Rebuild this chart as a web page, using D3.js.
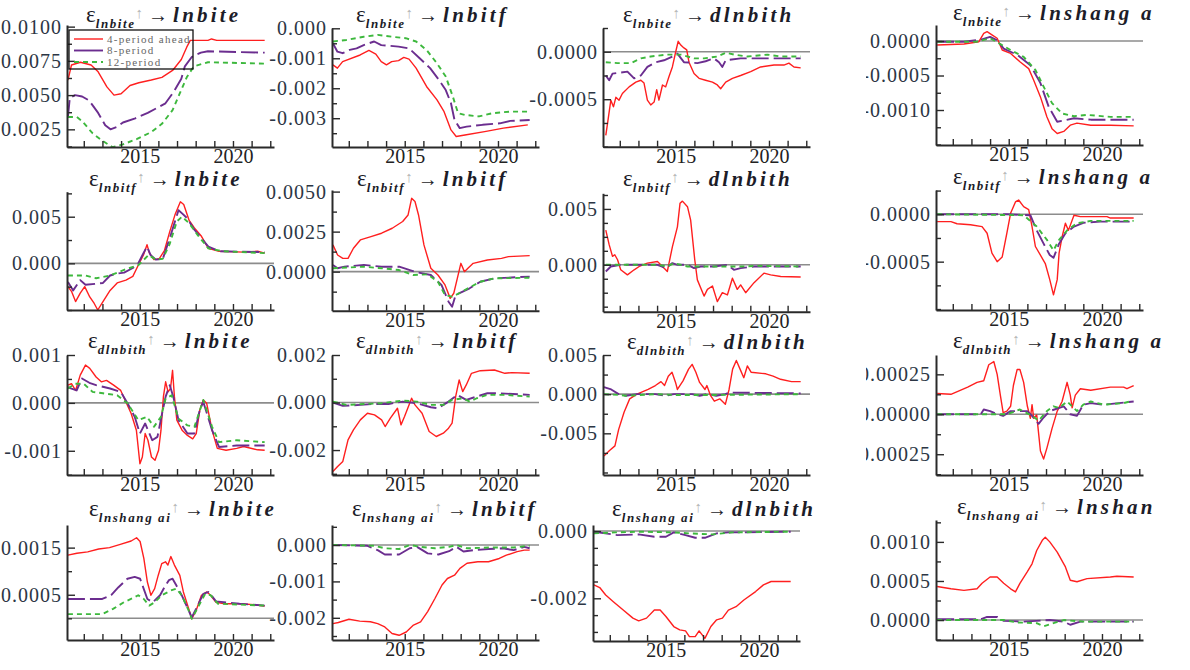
<!DOCTYPE html>
<html><head><meta charset="utf-8">
<script src="https://cdn.jsdelivr.net/npm/d3@7"></script>
<style>body{margin:0;background:#fff}svg{display:block}</style>
</head><body>
<svg id="c" width="1190" height="670"></svg>
<script>
// ---------- categories ----------
const shocks = ['lnbite','lnbitf','dlnbith','lnshang ai'];
const responses = ['lnbite','lnbitf','dlnbith','lnshang a'];
const lastResponse = 'lnshan';
const seriesNames = ['4-period ahead','8-period','12-period'];
const yearLabels = [2015, 2020];
const yearTicks = [2012,2013,2014,2015,2016,2017,2018,2019,2020,2021,2022];

// ---------- series values [year, value] ----------
const r11=[[2011.15,0.0061],[2011.34,0.0072],[2011.82,0.0074],[2012.39,0.0072],[2012.77,0.0067],[2013.24,0.0056],[2013.62,0.0050],[2014.0,0.0051],[2014.48,0.0057],[2014.95,0.0059],[2015.62,0.0061],[2016.19,0.0063],[2016.76,0.0068],[2017.23,0.0076],[2017.52,0.0085],[2017.71,0.0090],[2018.66,0.0090],[2018.85,0.0091],[2019.13,0.0090],[2021.7,0.0090]];
const p11=[[2011.15,0.0034],[2011.25,0.0048],[2011.53,0.0050],[2011.91,0.0049],[2012.29,0.0046],[2012.77,0.0037],[2013.15,0.0028],[2013.43,0.0025],[2013.81,0.0027],[2014.1,0.0030],[2014.76,0.0033],[2015.43,0.0037],[2016.38,0.0044],[2016.85,0.0053],[2017.23,0.0062],[2017.42,0.0071],[2017.8,0.0078],[2018.28,0.0081],[2018.66,0.0082],[2021.7,0.0081]];
const g11=[[2011.15,0.0034],[2011.63,0.0034],[2011.91,0.0031],[2012.48,0.0022],[2012.96,0.0017],[2013.53,0.0012],[2014.1,0.0014],[2014.86,0.0018],[2015.62,0.0023],[2016.19,0.0029],[2016.76,0.0039],[2017.14,0.0051],[2017.52,0.0063],[2017.9,0.0071],[2018.66,0.0074],[2021.7,0.0073]];

const r12=[[2011.15,-0.00122],[2011.39,-0.00133],[2011.67,-0.00111],[2012.61,-0.00089],[2013.08,-0.00074],[2013.45,-0.00086],[2013.74,-0.00111],[2014.02,-0.00122],[2014.3,-0.00111],[2014.67,-0.00108],[2014.95,-0.00097],[2015.23,-0.00103],[2015.61,-0.00133],[2016.17,-0.00194],[2016.73,-0.00239],[2017.11,-0.00278],[2017.48,-0.00339],[2017.76,-0.00361],[2018.23,-0.00356],[2019.36,-0.00344],[2020.29,-0.00333],[2021.6,-0.00322]];
const p12=[[2011.15,-0.0005],[2011.39,-0.00078],[2011.67,-0.00083],[2012.05,-0.00072],[2012.42,-0.00067],[2012.8,-0.00056],[2013.36,-0.00044],[2013.74,-0.00056],[2014.67,-0.00061],[2015.23,-0.00067],[2015.8,-0.001],[2016.36,-0.00133],[2016.83,-0.00172],[2017.2,-0.00206],[2017.48,-0.0025],[2017.67,-0.00306],[2017.95,-0.00333],[2018.32,-0.00328],[2019.17,-0.00322],[2020.1,-0.00317],[2020.66,-0.00309],[2021.7,-0.00306]];
const g12=[[2011.15,-0.00044],[2011.86,-0.00039],[2012.8,-0.00028],[2013.55,-0.00022],[2014.3,-0.00028],[2015.05,-0.00033],[2015.61,-0.00044],[2016.17,-0.00072],[2016.73,-0.00117],[2017.2,-0.00161],[2017.58,-0.00228],[2017.86,-0.00283],[2018.23,-0.00289],[2018.98,-0.00294],[2019.73,-0.00283],[2020.66,-0.00278],[2021.7,-0.00278]];

const r13=[[2011.25,-0.00088],[2011.34,-0.00076],[2011.52,-0.00051],[2011.66,-0.00058],[2011.79,-0.00048],[2011.96,-0.00051],[2012.14,-0.00044],[2012.5,-0.00037],[2012.86,-0.00032],[2013.13,-0.0003],[2013.3,-0.00033],[2013.48,-0.00051],[2013.66,-0.00056],[2013.84,-0.00053],[2013.98,-0.0004],[2014.1,-0.00051],[2014.29,-0.00035],[2014.46,-0.00037],[2014.64,-0.00026],[2014.82,-0.00016],[2015.0,0],[2015.13,0.00011],[2015.27,0.00007],[2015.44,0.00004],[2015.59,0.00002],[2015.71,-0.00011],[2015.98,-0.00023],[2016.25,-0.00028],[2016.6,-0.0003],[2016.97,-0.00032],[2017.23,-0.00035],[2017.41,-0.00039],[2017.68,-0.00032],[2018.04,-0.00028],[2018.48,-0.00025],[2019.02,-0.00021],[2019.55,-0.00016],[2020.27,-0.00014],[2020.8,-0.00014],[2021.07,-0.00012],[2021.34,-0.00016],[2021.7,-0.00017]];
const p13=[[2011.25,-0.00025],[2011.43,-0.0003],[2011.61,-0.00023],[2012.0,-0.00022],[2012.41,-0.00021],[2012.77,-0.00028],[2013.13,-0.00025],[2013.48,-0.00016],[2013.93,-0.00011],[2014.37,-0.00009],[2014.82,-0.00005],[2015.09,-0.00002],[2015.44,-0.00011],[2016.16,-0.00012],[2016.6,-0.0001],[2017.05,-0.00007],[2017.32,-0.00011],[2017.5,-0.00016],[2017.68,-0.00009],[2018.48,-0.00007],[2019.38,-0.00007],[2020.63,-0.00007],[2021.7,-0.00007]];
const g13=[[2011.25,-0.00011],[2011.88,-0.00012],[2012.59,-0.00012],[2013.13,-0.00007],[2013.66,-0.00005],[2014.55,-0.00003],[2015.27,-0.00003],[2015.98,-0.00007],[2016.52,-0.00007],[2017.23,-0.00005],[2017.68,-0.00001],[2018.12,-0.00003],[2018.84,-0.00005],[2019.91,-0.00003],[2020.63,-0.00005],[2021.7,-0.00005]];

const r14=[[2011.16,-0.000058],[2012.6,-0.000043],[2013.4,-0.00001],[2013.66,0.00011],[2013.84,0.000135],[2014.1,0.00009],[2014.38,0.00004],[2014.65,-0.00013],[2015.1,-0.00018],[2015.6,-0.0003],[2016.07,-0.0004],[2016.34,-0.00057],[2016.7,-0.00081],[2017.05,-0.0011],[2017.32,-0.00127],[2017.6,-0.00134],[2017.95,-0.00131],[2018.3,-0.00122],[2018.66,-0.00119],[2019.4,-0.00122],[2020.45,-0.00122],[2021.7,-0.00123]];
const p14=[[2011.16,-0.00001],[2012.6,-0.00001],[2013.5,0.00002],[2014.0,0.00006],[2014.38,0.00001],[2014.73,-0.00011],[2015.45,-0.0002],[2016.16,-0.00035],[2016.7,-0.00061],[2017.14,-0.00095],[2017.6,-0.00117],[2018.0,-0.00115],[2018.5,-0.00112],[2019.4,-0.00114],[2021.7,-0.00114]];
const g14=[[2011.16,-0.00001],[2013.3,-0.00001],[2014.0,0.00004],[2014.46,-0.00003],[2015.1,-0.00013],[2015.8,-0.00023],[2016.43,-0.00042],[2016.87,-0.00066],[2017.32,-0.0009],[2017.86,-0.00105],[2018.5,-0.00109],[2019.2,-0.00107],[2020.45,-0.0011],[2021.7,-0.0011]];

const r21=[[2011.15,-0.0025],[2011.34,-0.003],[2011.56,-0.0041],[2011.81,-0.0032],[2012.05,-0.0025],[2012.32,-0.0036],[2012.56,-0.0043],[2012.75,-0.005],[2013.03,-0.0041],[2013.41,-0.0029],[2013.79,-0.0021],[2014.26,-0.0018],[2014.63,-0.0014],[2014.92,-0.0002],[2015.2,0.0009],[2015.39,0.002],[2015.52,0.0011],[2015.76,0.0004],[2016.05,0.0005],[2016.33,0.0014],[2016.61,0.0034],[2016.89,0.0052],[2017.18,0.0066],[2017.36,0.0063],[2017.65,0.0046],[2017.93,0.0038],[2018.31,0.0029],[2018.68,0.0016],[2019.25,0.0013],[2020.57,0.0012],[2021.32,0.0013],[2021.7,0.0011]];
const p21=[[2011.15,-0.002],[2011.43,-0.0029],[2011.81,-0.0018],[2012.09,-0.0023],[2012.6,-0.0022],[2013.03,-0.0021],[2013.41,-0.0013],[2013.79,-0.0011],[2014.16,-0.001],[2014.63,-0.0005],[2014.92,0],[2015.2,0.0011],[2015.39,0.0018],[2015.58,0.0009],[2015.86,0.0004],[2016.24,0.0005],[2016.61,0.0027],[2016.89,0.0045],[2017.08,0.0057],[2017.3,0.0053],[2017.56,0.0048],[2017.93,0.0036],[2018.68,0.0018],[2019.25,0.0013],[2021.7,0.0012]];
const g21=[[2011.15,-0.0013],[2012.09,-0.0013],[2012.66,-0.0016],[2013.41,-0.0013],[2014.16,-0.0007],[2014.92,-0.0002],[2015.48,0.0009],[2015.86,0.0004],[2016.24,0.0005],[2016.61,0.0021],[2016.99,0.0045],[2017.27,0.005],[2017.65,0.0043],[2018.12,0.003],[2018.68,0.0016],[2019.44,0.0013],[2021.7,0.0011]];

const r22=[[2011.15,0.00167],[2011.4,0.00104],[2011.68,0.00083],[2011.96,0.00083],[2012.25,0.00146],[2012.62,0.00198],[2013.19,0.00219],[2013.76,0.0024],[2014.33,0.00271],[2014.89,0.00313],[2015.18,0.00354],[2015.37,0.00458],[2015.55,0.00438],[2015.74,0.00354],[2016.03,0.00167],[2016.4,0.00021],[2016.78,-0.00021],[2017.16,-0.00083],[2017.44,-0.00167],[2017.63,-0.00135],[2017.82,-0.00042],[2018.01,0.00052],[2018.2,0],[2018.39,0.00021],[2018.67,0.00052],[2019.43,0.00073],[2020.19,0.00083],[2020.56,0.00094],[2021.7,0.001]];
const p22=[[2011.15,0.00042],[2011.4,0.00021],[2011.77,0.00031],[2012.81,0.00042],[2013.76,0.00031],[2014.7,0.00031],[2015.65,-0.00004],[2016.4,-0.00021],[2016.97,-0.00083],[2017.35,-0.00188],[2017.54,-0.00219],[2017.73,-0.00146],[2018.11,-0.00125],[2018.48,-0.00104],[2019.05,-0.00063],[2019.81,-0.00042],[2021.7,-0.00031]];
const g22=[[2011.15,0.00021],[2012.81,0.00031],[2013.76,0.00021],[2014.7,0.0001],[2015.46,-0.00021],[2016.22,-0.00017],[2016.78,-0.00063],[2017.16,-0.00146],[2017.54,-0.00156],[2017.92,-0.00135],[2018.39,-0.00104],[2019.05,-0.00063],[2019.81,-0.00042],[2021.7,-0.00038]];

const r23=[[2011.25,0.0031],[2011.43,0.0018],[2011.61,0.00075],[2011.73,0.0009],[2011.88,0.00045],[2012.05,-0.00045],[2012.41,-0.0009],[2012.77,-0.00045],[2013.04,-0.00015],[2013.48,0.00015],[2014.02,0.0003],[2014.29,-0.00015],[2014.55,-0.0006],[2014.64,0.00015],[2014.82,0.0016],[2015.09,0.0034],[2015.23,0.0055],[2015.36,0.0057],[2015.63,0.0052],[2015.8,0.004],[2016.02,0.00045],[2016.16,-0.00135],[2016.52,-0.0028],[2016.7,-0.0022],[2016.97,-0.0019],[2017.23,-0.0033],[2017.5,-0.0025],[2017.77,-0.0027],[2018.04,-0.0012],[2018.3,-0.0022],[2018.48,-0.0018],[2018.75,-0.0025],[2019.2,-0.0016],[2019.73,-0.00075],[2020.09,-0.0009],[2020.63,-0.00105],[2021.7,-0.0011]];
const p23=[[2011.25,-0.0006],[2011.52,-0.00015],[2012.05,0],[2013.13,0],[2014.02,0],[2014.46,-0.0003],[2014.82,0.00015],[2015.09,0],[2015.63,0],[2015.98,-0.0003],[2016.34,-0.00015],[2017.05,-0.00015],[2017.77,0],[2018.12,-0.00045],[2018.48,-0.0003],[2019.2,-0.00015],[2021.7,-0.00015]];
const g23=[[2011.25,0],[2012.05,0],[2014.02,0],[2014.55,-0.00015],[2014.9,0.00015],[2015.63,-0.00015],[2017.05,-0.00015],[2017.95,-0.00015],[2018.48,-0.00015],[2019.38,-0.0001],[2021.7,-0.00015]];

const r24=[[2011.16,-0.000078],[2011.9,-0.000078],[2012.23,-0.0001],[2012.95,-0.00011],[2013.57,-0.00013],[2013.84,-0.0002],[2014.1,-0.00041],[2014.38,-0.0005],[2014.65,-0.00045],[2014.9,-0.0002],[2015.1,0.00001],[2015.36,0.00013],[2015.53,0.00015],[2015.8,0.00008],[2016.07,0.00005],[2016.25,-0.00013],[2016.43,-0.00034],[2016.7,-0.00043],[2016.96,-0.00052],[2017.2,-0.00069],[2017.4,-0.00085],[2017.6,-0.00069],[2017.7,-0.00041],[2017.86,-0.00024],[2018.04,-0.000095],[2018.2,-0.00017],[2018.5,-0.00001],[2018.84,-0.000025],[2020.27,-0.000025],[2020.45,-0.00004],[2021.7,-0.00004]];
const p24=[[2011.16,0],[2014.9,0],[2016.16,-0.00001],[2016.5,-0.00017],[2016.87,-0.00031],[2017.2,-0.00043],[2017.4,-0.00046],[2017.7,-0.00031],[2018.04,-0.0002],[2018.5,-0.00013],[2019.0,-0.00009],[2019.9,-0.000078],[2021.7,-0.000078]];
const g24=[[2011.16,0],[2015.8,-0.00001],[2016.5,-0.00013],[2017.05,-0.00027],[2017.4,-0.00038],[2017.7,-0.00027],[2018.13,-0.00017],[2018.66,-0.000095],[2019.4,-0.00007],[2021.7,-0.00007]];

const r31=[[2011.15,0.00037],[2011.34,0.0004],[2011.56,0.00026],[2011.81,0.00058],[2012.09,0.00079],[2012.32,0.00072],[2012.66,0.00054],[2012.94,0.00044],[2013.22,0.00047],[2013.6,0.00037],[2013.98,0.00026],[2014.26,0.00002],[2014.54,-0.00022],[2014.82,-0.00057],[2015.01,-0.00127],[2015.14,-0.00113],[2015.29,-0.00064],[2015.44,-0.00078],[2015.63,-0.00113],[2015.82,-0.0012],[2016.01,-0.00099],[2016.14,-0.00057],[2016.27,0.00013],[2016.39,0.00044],[2016.52,0.00023],[2016.65,0.0003],[2016.76,0.00068],[2016.86,0.00013],[2016.99,-0.00036],[2017.27,-0.00057],[2017.56,-0.00068],[2017.84,-0.00075],[2018.03,-0.00064],[2018.22,-0.00015],[2018.41,0.00006],[2018.59,-0.00001],[2018.88,-0.00057],[2019.16,-0.00095],[2019.63,-0.00099],[2020.2,-0.00095],[2020.57,-0.00091],[2021.32,-0.00098],[2021.7,-0.00099]];
const p31=[[2011.15,0.00033],[2011.34,0.0003],[2011.62,0.00026],[2011.9,0.00051],[2012.3,0.00042],[2012.66,0.00037],[2013.41,0.0003],[2013.98,0.00023],[2014.35,-0.00001],[2014.73,-0.00029],[2015.01,-0.00064],[2015.29,-0.00043],[2015.67,-0.00078],[2015.95,-0.00071],[2016.2,-0.00022],[2016.39,0.00013],[2016.61,0.00037],[2016.8,0.00013],[2017.08,-0.00036],[2017.56,-0.00064],[2017.93,-0.00064],[2018.22,-0.00015],[2018.41,0.00002],[2018.88,-0.00057],[2019.25,-0.00092],[2020.2,-0.00089],[2021.7,-0.00089]];
const g31=[[2011.15,0.0003],[2011.53,0.0004],[2012.0,0.0004],[2012.47,0.00023],[2013.03,0.0002],[2013.79,0.00016],[2014.35,-0.00001],[2014.92,-0.00036],[2015.39,-0.00029],[2015.76,-0.0005],[2016.14,-0.00029],[2016.39,0.00009],[2016.71,0.00016],[2017.08,-0.00033],[2017.56,-0.00047],[2017.93,-0.0005],[2018.41,0.00006],[2018.88,-0.0005],[2019.25,-0.00082],[2020.2,-0.00078],[2021.7,-0.00082]];

const r32=[[2011.15,-0.0029],[2011.4,-0.00269],[2011.68,-0.00248],[2011.96,-0.00157],[2012.25,-0.00115],[2012.62,-0.00073],[2013.0,-0.00045],[2013.38,-0.00052],[2013.76,-0.00073],[2013.95,-0.00101],[2014.23,-0.00066],[2014.61,-0.00024],[2014.8,-0.00094],[2014.99,-0.00059],[2015.37,0.00018],[2015.55,-0.0001],[2015.93,-0.00045],[2016.31,-0.00122],[2016.69,-0.00143],[2017.07,-0.00129],[2017.35,-0.00108],[2017.54,-0.00087],[2017.73,0.00025],[2017.92,0.00095],[2018.11,0.00046],[2018.3,0.00074],[2018.58,0.00123],[2019.05,0.00134],[2019.81,0.00137],[2020.37,0.00123],[2020.75,0.00126],[2021.7,0.00123]];
const p32=[[2011.15,0],[2011.68,-0.00014],[2012.62,-0.0001],[2013.38,-0.00006],[2014.14,-0.00006],[2014.89,0.00004],[2015.65,-0.00003],[2016.4,-0.0002],[2016.78,-0.00024],[2017.35,0.00004],[2017.82,0.00032],[2018.3,0.00011],[2018.86,0.00025],[2019.43,0.00039],[2020.0,0.00039],[2021.7,0.00032]];
const g32=[[2011.15,0.00004],[2011.87,-0.0001],[2013.76,-0.00003],[2014.89,0.00008],[2015.65,0.00004],[2016.4,-0.0001],[2017.07,-0.0001],[2017.54,0.00011],[2018.11,0.00018],[2018.49,0.00004],[2018.86,0.00018],[2019.43,0.00032],[2020.37,0.00032],[2021.7,0.00025]];

const r33=[[2011.15,-0.0079],[2011.45,-0.0072],[2011.74,-0.0066],[2011.94,-0.0045],[2012.23,-0.0023],[2012.53,-0.0006],[2012.92,0],[2013.52,0.0006],[2013.91,0.0011],[2014.21,0.0016],[2014.4,0.0011],[2014.6,0.0023],[2014.8,0.0028],[2014.99,0.0015],[2015.09,0.0006],[2015.39,0.0017],[2015.69,0.0032],[2015.88,0.0038],[2016.08,0.0028],[2016.28,0.0015],[2016.57,0.0006],[2016.67,0.0011],[2016.87,-0.0002],[2017.07,-0.0009],[2017.36,-0.0006],[2017.66,-0.0013],[2017.86,0.0006],[2018.05,0.0032],[2018.25,0.0043],[2018.45,0.0032],[2018.65,0.0021],[2018.84,0.0036],[2019.04,0.0028],[2019.83,0.0026],[2020.22,0.0023],[2020.62,0.0019],[2021.21,0.0016],[2021.7,0.0016]];
const p33=[[2011.15,0.0009],[2011.54,0.0006],[2011.94,0],[2012.33,-0.0002],[2012.92,0],[2013.9,0],[2014.5,-0.0002],[2014.9,0],[2015.88,0],[2016.28,-0.0002],[2016.67,0],[2017.17,-0.0002],[2017.66,0],[2017.86,0.0002],[2021.7,0.0001]];
const g33=[[2011.15,0],[2011.94,-0.0001],[2012.33,-0.0002],[2013.9,0],[2014.9,-0.0001],[2017.07,-0.0001],[2021.7,0]];

const r34=[[2011.16,0.00013],[2011.9,0.000125],[2012.8,0.00017],[2013.3,0.0002],[2013.66,0.00021],[2013.93,0.00031],[2014.2,0.00033],[2014.38,0.00025],[2014.55,0.00012],[2014.7,0.00001],[2014.9,0.00002],[2015.1,0.00005],[2015.25,0.00018],[2015.45,0.00028],[2015.6,0.00028],[2015.8,0.0002],[2016.0,0.00005],[2016.16,-0.000025],[2016.25,0.00006],[2016.34,-0.000025],[2016.5,-0.000004],[2016.7,-0.00023],[2016.87,-0.00028],[2017.05,-0.00021],[2017.32,-0.00009],[2017.6,0.00002],[2017.86,0.00008],[2018.13,0.0002],[2018.3,0.00012],[2018.4,0.00004],[2018.57,0.00012],[2018.84,0.00016],[2019.4,0.00015],[2020.45,0.00017],[2021.16,0.00017],[2021.34,0.00016],[2021.7,0.00018]];
const p34=[[2011.16,0],[2013.5,0],[2013.66,0.00003],[2014.0,0.00002],[2014.38,0],[2014.7,-0.00001],[2015.1,0.00002],[2016.0,0.00002],[2016.25,-0.00001],[2016.6,-0.00006],[2016.87,-0.00002],[2017.2,0.00002],[2017.95,0.00005],[2018.3,0],[2018.66,-0.00001],[2019.0,0.00006],[2019.4,0.00007],[2020.1,0.00006],[2021.7,0.00008]];
const g34=[[2011.16,0],[2014.9,0],[2015.6,0.00003],[2016.25,-0.00001],[2016.6,-0.00004],[2017.05,0.00002],[2017.4,0.00005],[2017.7,0.00004],[2018.13,0.00008],[2018.4,0.00005],[2018.66,0.00002],[2019.0,0.00006],[2019.4,0.00008],[2020.1,0.00006],[2021.16,0.00007],[2021.5,0.00008]];

const r41=[[2011.15,0.00134],[2011.63,0.00138],[2012.21,0.00141],[2012.8,0.00147],[2013.38,0.0015],[2013.96,0.00157],[2014.54,0.00164],[2014.83,0.00171],[2015.02,0.00163],[2015.22,0.00127],[2015.41,0.00077],[2015.6,0.00049],[2015.8,0.00063],[2015.99,0.00091],[2016.18,0.00116],[2016.38,0.0012],[2016.51,0.00113],[2016.67,0.00131],[2016.86,0.00113],[2017.15,0.00091],[2017.34,0.00056],[2017.63,0.0002],[2017.79,-0.00001],[2018.02,0.00016],[2018.31,0.00049],[2018.6,0.00056],[2018.8,0.00049],[2019.09,0.00034],[2019.57,0.00031],[2020.35,0.00031],[2021.12,0.00029],[2021.7,0.00026]];
const p41=[[2011.15,0.00041],[2012.99,0.00041],[2013.47,0.00049],[2013.86,0.00066],[2014.34,0.00084],[2014.73,0.00088],[2015.02,0.00084],[2015.41,0.00041],[2015.7,0.00034],[2016.09,0.00049],[2016.38,0.0007],[2016.57,0.00081],[2016.76,0.00084],[2016.96,0.0007],[2017.25,0.00049],[2017.63,0.00016],[2017.79,0.00002],[2018.02,0.0002],[2018.41,0.00052],[2018.7,0.00056],[2019.09,0.00036],[2020.35,0.00031],[2021.7,0.00027]];
const g41=[[2011.15,0.00009],[2012.99,0.00009],[2013.57,0.0002],[2014.15,0.00034],[2014.73,0.00045],[2014.92,0.00049],[2015.22,0.00041],[2015.51,0.00027],[2015.8,0.00034],[2016.18,0.00049],[2016.67,0.00059],[2016.96,0.00063],[2017.25,0.00049],[2017.63,0.00016],[2017.79,-0.00001],[2018.02,0.00016],[2018.51,0.00052],[2018.8,0.00049],[2019.19,0.00031],[2021.7,0.00027]];

const r42=[[2011.15,-0.00216],[2011.44,-0.00213],[2012.01,-0.00204],[2012.59,-0.00209],[2013.16,-0.00211],[2013.55,-0.00216],[2013.93,-0.00225],[2014.32,-0.00243],[2014.7,-0.00248],[2015.08,-0.00239],[2015.47,-0.0022],[2015.85,-0.00211],[2016.23,-0.00183],[2016.62,-0.00147],[2017.0,-0.0011],[2017.29,-0.00092],[2017.67,-0.00083],[2017.96,-0.00064],[2018.34,-0.0005],[2018.92,-0.00046],[2019.49,-0.00046],[2020.07,-0.00037],[2020.45,-0.00028],[2021.03,-0.00018],[2021.41,-0.00014],[2021.7,-0.00014]];
const p42=[[2011.15,0],[2012.97,-0.00002],[2013.55,-0.00014],[2013.93,-0.00026],[2014.7,-0.00026],[2015.27,-0.00009],[2015.66,-0.00005],[2016.23,-0.00023],[2016.81,-0.00026],[2017.38,-0.00017],[2017.77,-0.00005],[2018.15,-0.00018],[2018.73,-0.00014],[2019.49,-0.00011],[2020.26,-0.00009],[2020.84,-0.00014],[2021.41,-0.00005],[2021.7,-0.00009]];
const g42=[[2011.15,0],[2013.36,-0.00002],[2013.93,-0.00009],[2014.7,-0.00011],[2015.27,0],[2015.85,-0.00005],[2016.62,-0.00009],[2017.38,-0.00005],[2017.77,0],[2018.34,-0.00009],[2019.49,-0.00007],[2020.84,-0.00007],[2021.7,-0.00002]];

const r43=[[2011.15,-0.0016],[2011.46,-0.00168],[2011.78,-0.0019],[2012.19,-0.0021],[2012.72,-0.00235],[2013.24,-0.00259],[2013.55,-0.00267],[2013.97,-0.00259],[2014.39,-0.00235],[2014.7,-0.00235],[2015.01,-0.00254],[2015.43,-0.00284],[2015.75,-0.00294],[2016.06,-0.00297],[2016.27,-0.00314],[2016.58,-0.00314],[2016.79,-0.00297],[2017.1,-0.00319],[2017.42,-0.00284],[2017.73,-0.00264],[2018.04,-0.00259],[2018.36,-0.00235],[2018.77,-0.00225],[2019.19,-0.00205],[2019.82,-0.0018],[2020.24,-0.0016],[2020.65,-0.0015],[2021.07,-0.0015],[2021.7,-0.0015]];
const p43=[[2011.15,-0.00002],[2012.4,-0.00012],[2013.55,-0.0001],[2014.39,-0.00017],[2015.01,-0.00017],[2015.43,-0.00004],[2016.06,-0.00012],[2016.58,-0.0002],[2017.1,-0.0002],[2017.73,-0.00007],[2018.36,-0.00004],[2018.98,-0.00004],[2021.7,-0.00002]];
const g43=[[2011.15,-0.00007],[2012.3,-0.00004],[2013.75,-0.00002],[2015.43,-0.00004],[2016.27,-0.00007],[2017.52,-0.0001],[2018.56,-0.00004],[2021.7,-0.00002]];

const r44=[[2011.16,0.00043],[2011.9,0.0004],[2012.6,0.00038],[2013.3,0.0004],[2013.57,0.00047],[2014.0,0.00055],[2014.38,0.00055],[2014.73,0.00047],[2015.1,0.0004],[2015.36,0.00036],[2015.6,0.00047],[2016.0,0.00062],[2016.25,0.00072],[2016.5,0.00089],[2016.8,0.00102],[2016.96,0.00106],[2017.2,0.001],[2017.6,0.00087],[2018.04,0.00068],[2018.3,0.00051],[2018.66,0.00049],[2019.2,0.00053],[2020.45,0.00055],[2020.8,0.00056],[2021.7,0.00055]];
const p44=[[2011.16,0.00001],[2013.5,0.00001],[2013.84,0.00004],[2014.38,0.00004],[2014.73,-0.00001],[2015.8,-0.00002],[2017.2,0],[2017.95,-0.00002],[2018.3,-0.00006],[2018.84,-0.00002],[2021.7,-0.00002]];
const g44=[[2011.16,0],[2014.73,0],[2015.45,-0.00003],[2016.5,-0.00004],[2016.87,-0.00008],[2017.4,-0.00004],[2017.95,0],[2019.0,-0.00002],[2021.7,-0.00002]];

// ---------- tick values per panel ----------
const majors = {
 '11':[0.0025,0.005,0.0075,0.01],'12':[0,-0.001,-0.002,-0.003],'13':[0,-0.0005],'14':[0,-0.0005,-0.001],
 '21':[0,0.005],'22':[0,0.0025,0.005],'23':[0,0.005],'24':[0,-0.0005],
 '31':[-0.001,0,0.001],'32':[-0.002,0,0.002],'33':[-0.005,0,0.005],'34':[-0.00025,0,0.00025],
 '41':[0.0005,0.0015],'42':[-0.002,-0.001,0],'43':[-0.002,0],'44':[0,0.0005,0.001]
};
const minorStep = {'11':0.00125,'12':0.0005,'13':0.00025,'14':0.00025,'21':0.0025,'22':0.00125,'23':0.00125,'24':0.00025,
 '31':0.0005,'32':0.001,'33':0.0025,'34':0.000125,'41':0.0005,'42':0.0005,'43':0.0005,'44':0.00025};
const decimals = {'11':4,'12':3,'13':4,'14':4,'21':3,'22':4,'23':3,'24':4,'31':3,'32':3,'33':3,'34':5,'41':4,'42':3,'43':3,'44':4};

// ---------- value range shown by each panel [bottom, top] ----------
const yRange = {
 '11':[0.00121,0.01012],'12':[-0.00396,0.00001],'13':[-0.001,0.00025],'14':[-0.001507,0.000232],
 '21':[-0.005,0.00768],'22':[-0.00244,0.0051],'23':[-0.0042,0.0064],'24':[-0.00101,0.000256],
 '31':[-0.001506,0.001],'32':[-0.00305,0.002],'33':[-0.01032,0.005],'34':[-0.00038,0.000371],
 '41':[-0.00046,0.00198],'42':[-0.00261,0.00055],'43':[-0.00327,0.00018],'44':[-0.000255,0.00128]
};
const xRange = [2011.1, 2022.2];

const series = {
 '11':[r11,p11,g11],'12':[r12,p12,g12],'13':[r13,p13,g13],'14':[r14,p14,g14],
 '21':[r21,p21,g21],'22':[r22,p22,g22],'23':[r23,p23,g23],'24':[r24,p24,g24],
 '31':[r31,p31,g31],'32':[r32,p32,g32],'33':[r33,p33,g33],'34':[r34,p34,g34],
 '41':[r41,p41,g41],'42':[r42,p42,g42],'43':[r43,p43,g43],'44':[r44,p44,g44]
};

// ---------- layout (pixels) ----------
const PW = 207;
const box = {
 '11':{x0:67,top:25,bot:147,tx:86,ty:22},'12':{x0:332,top:28,bot:147,tx:356,ty:22},
 '13':{x0:603,top:28,bot:146.7,tx:623,ty:22},'14':{x0:936,top:25,bot:145,tx:953,ty:20},
 '21':{x0:67,top:191.7,bot:310,tx:89,ty:186},'22':{x0:332,top:190,bot:310.7,tx:357,ty:186},
 '23':{x0:603,top:193.3,bot:311.7,tx:623,ty:186},'24':{x0:936,top:190,bot:310,tx:953,ty:184},
 '31':{x0:67,top:355,bot:475,tx:88,ty:348},'32':{x0:332,top:355,bot:475,tx:356,ty:348},
 '33':{x0:603,top:355,bot:475,tx:627,ty:349},'34':{x0:936,top:355,bot:475,tx:953,ty:348},
 '41':{x0:67,top:525,bot:640,tx:89,ty:516},'42':{x0:332,top:525,bot:640,tx:352,ty:516},
 '43':{x0:593,top:525,bot:641,tx:612,ty:516},'44':{x0:936,top:520,bot:640,tx:957,ty:514}
};
const colors = ['#ff1f1f','#6b2d8f','#3db83d'];
const dashes = [null,'17,5','5,4'];
const widths = [1.4,1.9,1.9];
const SERIF = '"Liberation Serif"';

const svg = d3.select('#c');
svg.append('defs').append('clipPath').attr('id','clip4')
  .append('rect').attr('x',866).attr('y',0).attr('width',330).attr('height',670);

function fmt(v, dec){ if (Math.abs(v) < 1e-12) return (0).toFixed(dec); return (v<0?'-':'') + Math.abs(v).toFixed(dec); }

for (let r=1;r<=4;r++) for (let c=1;c<=4;c++) {
  const id = ''+r+c, b = box[id];
  const g = svg.append('g');
  if (c===4) g.attr('clip-path','url(#clip4)');
  const x = d3.scaleLinear().domain(xRange).range([b.x0, b.x0+PW]);
  const y = d3.scaleLinear().domain(yRange[id]).range([b.bot, b.top]);

  if (y(0) > b.top + 3 && y(0) < b.bot - 1) {
    g.append('line').attr('x1',b.x0).attr('x2',b.x0+PW).attr('y1',y(0)).attr('y2',y(0))
      .attr('stroke','#8c8c8c').attr('stroke-width',1.6);
  }
  const line = d3.line().x(d=>x(d[0])).y(d=>y(d[1]));
  series[id].forEach((s,i)=>{
    g.append('path').datum(s).attr('d',line).attr('fill','none')
      .attr('stroke',colors[i]).attr('stroke-width',widths[i])
      .attr('stroke-dasharray',dashes[i]).attr('stroke-linejoin','round');
  });
  const xa = g.append('g').attr('transform',`translate(0,${b.bot})`)
    .call(d3.axisBottom(x).tickValues(yearTicks).tickSize(-6).tickSizeOuter(0).tickPadding(2)
      .tickFormat(d=> yearLabels.includes(d) ? String(d) : ''));
  xa.attr('font-family',null).attr('font-size',null).attr('color','#222');
  xa.selectAll('text').style('font-family',SERIF).style('font-size','20px');
  xa.select('.domain').attr('stroke-width',2).attr('stroke','#2a2a2a');
  xa.selectAll('.tick line').attr('stroke-width',1.4).attr('stroke','#2a2a2a');

  const mj = majors[id], st = minorStep[id], [lo,hi] = yRange[id];
  const minors = [];
  for (let k=Math.ceil(lo/st-1e-9); k<=Math.floor(hi/st+1e-9); k++) {
    const v = +(k*st).toFixed(8);
    if (!mj.some(m=>Math.abs(m-v)<st*0.01)) minors.push(v);
  }
  const ya = g.append('g').attr('transform',`translate(${b.x0},0)`)
    .call(d3.axisLeft(y).tickValues(mj.concat(minors)).tickSize(-5).tickSizeOuter(0).tickPadding(5)
      .tickFormat(v=> mj.includes(v) ? fmt(v,decimals[id]) : ''));
  ya.attr('font-family',null).attr('font-size',null).attr('color','#2c3644');
  ya.selectAll('text').style('font-family',SERIF).style('font-size','20px').attr('letter-spacing',1);
  ya.select('.domain').attr('stroke-width',2).attr('stroke','#2a2a2a');
  ya.selectAll('.tick line').attr('stroke-width',1.4).attr('stroke','#2a2a2a')
    .attr('x2', d=> mj.includes(d) ? 8 : 5);

  const resp = (r===4 && c===4) ? lastResponse : responses[c-1];
  const t = g.append('text').attr('x',b.tx).attr('y',b.ty).style('font-family',SERIF).attr('fill','#1c1c28');
  t.append('tspan').style('font-size','23px').text('ε');
  t.append('tspan').style('font-size','13px').style('font-style','italic').style('font-weight','bold').attr('letter-spacing',1.6).attr('dy',6).text(shocks[r-1]);
  t.append('tspan').style('font-size','15px').attr('fill','#b4b4b4').attr('dy',-10).text('↑');
  t.append('tspan').style('font-size','20px').attr('dy',4).text(' → ');
  t.append('tspan').style('font-size','21px').style('font-style','italic').style('font-weight','bold').attr('letter-spacing',3.2).text(resp);

  if (id==='11') {
    const L = g.append('g');
    L.append('rect').attr('x',69).attr('y',30).attr('width',124).attr('height',39)
      .attr('fill','none').attr('stroke','#111').attr('stroke-width',1.3);
    seriesNames.forEach((n,i)=>{
      const yy = 39 + i*11.5;
      L.append('line').attr('x1',74).attr('x2',103).attr('y1',yy).attr('y2',yy)
        .attr('stroke',colors[i]).attr('stroke-width',widths[i]).attr('stroke-dasharray',i===2?'5,4':null);
      L.append('text').attr('x',107).attr('y',yy+3.5).style('font-family',SERIF).style('font-size','11px')
        .attr('letter-spacing',1.3).attr('fill','#666').text(n);
    });
  }
}
</script>
</body></html>
